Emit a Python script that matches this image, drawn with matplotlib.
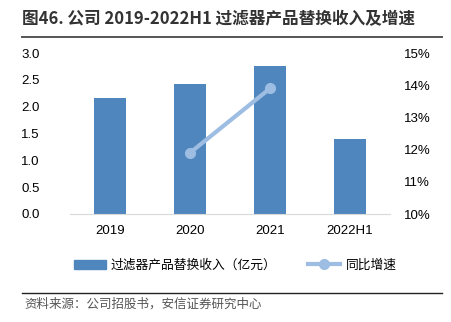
import matplotlib
matplotlib.use("Agg")
import matplotlib.pyplot as plt
from matplotlib.lines import Line2D
from matplotlib.patches import Patch

plt.rcParams['font.family'] = ['Noto Sans CJK SC', 'DejaVu Sans']

categories = ["2019", "2020", "2021", "2022H1"]
revenue = [2.16, 2.42, 2.76, 1.40]          # 亿元
growth_x = ["2020", "2021"]
growth = [11.9, 13.9]                      # %
left_ticks = [0.0, 0.5, 1.0, 1.5, 2.0, 2.5, 3.0]
right_ticks = [10, 11, 12, 13, 14, 15]

bar_color = "#4F86BD"
line_color = "#9DBDE3"
tick_font = ['Liberation Sans', 'DejaVu Sans']

fig = plt.figure(figsize=(4.52, 3.22), dpi=100)
ax = fig.add_axes([70/452, 1-214/322, 320/452, 161/322])

x = list(range(len(categories)))
ax.bar(x, revenue, width=0.4, color=bar_color, zorder=2)
ax.set_xlim(-0.5, len(categories) - 0.5)
ax.set_ylim(0, 3.0)
ax.set_yticks(left_ticks)
ax.set_yticklabels([f"{v:.1f}" for v in left_ticks], family=tick_font, fontsize=9.5)
ax.set_xticks(x)
ax.set_xticklabels(categories, family=tick_font, fontsize=9.5)
for s in ["top", "right", "left"]:
    ax.spines[s].set_visible(False)
ax.spines["bottom"].set_color("#D9D9D9")
ax.tick_params(axis="both", length=0, pad=8)
ax.tick_params(axis="y", pad=22)

ax2 = ax.twinx()
gx = [categories.index(c) for c in growth_x]
ax2.plot(gx, growth, color=line_color, lw=3, marker="o", ms=7, zorder=3)
ax2.set_ylim(10, 15)
ax2.set_yticks(right_ticks)
ax2.set_yticklabels([f"{v}%" for v in right_ticks], family=tick_font, fontsize=9.5)
for s in ["top", "right", "left", "bottom"]:
    ax2.spines[s].set_visible(False)
ax2.tick_params(axis="y", length=0, pad=10)

# Title and rules
fig.text(22/452, 1-19/322, "图46. 公司 2019-2022H1 过滤器产品替换收入及增速",
         fontsize=12, fontweight="bold", color="#333333", va="center")
fig.add_artist(Line2D([22/452, 442/452], [1-37/322, 1-37/322], color="#555555", lw=1.4))
fig.add_artist(Line2D([22/452, 442/452], [1-293/322, 1-293/322], color="#222222", lw=1.0))
fig.text(24/452, 1-304/322, "资料来源：公司招股书，安信证券研究中心",
         fontsize=9, style="italic", color="#555555", va="center")

handles = [Patch(color=bar_color),
           Line2D([], [], color=line_color, lw=3, marker="o", ms=7)]
labels = ["过滤器产品替换收入（亿元）", "同比增速"]
fig.legend(handles, labels, loc="center", bbox_to_anchor=(0.52, 1-265/322),
           ncol=2, frameon=False, fontsize=9.2, handlelength=2.5,
           columnspacing=2.5, handletextpad=0.4)

fig.savefig("out.png", dpi=100)
